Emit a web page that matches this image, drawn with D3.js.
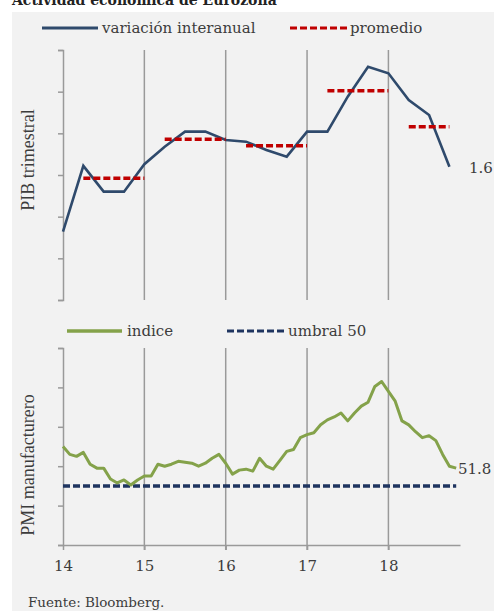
<!DOCTYPE html>
<html>
<head>
<meta charset="utf-8">
<script src="https://cdn.jsdelivr.net/npm/d3@7"></script>
<style>
  body { margin: 0; background: #fff; }
  text { font-family: "DejaVu Serif", "Liberation Serif", serif; fill: #3c3c3c; }
</style>
</head>
<body>
<div id="chart"></div>
<script>
// PIB: variacion interanual trimestral, 2014T1 .. 2018T4
var gdpQuarters = d3.range(20).map(function(k) { return 14 + k / 4; });
var gdpValues = [0.82, 1.61, 1.30, 1.30, 1.63, 1.84, 2.02, 2.02,
                 1.92, 1.90, 1.80, 1.72, 2.02, 2.02, 2.44, 2.80,
                 2.72, 2.40, 2.22, 1.60];

// promedio anual (segmento desde T2 del anyo)
var avgYears = [14, 15, 16, 17, 18];
var avgValues = [1.46, 1.93, 1.85, 2.51, 2.08];

// PMI manufacturero mensual, ene 2014 .. nov 2018
var pmiValues = [54.0, 53.2, 53.0, 53.4, 52.2, 51.8, 51.8, 50.7, 50.3, 50.6, 50.1, 50.6,
                 51.0, 51.0, 52.2, 52.0, 52.2, 52.5, 52.4, 52.3, 52.0, 52.3, 52.8, 53.2,
                 52.3, 51.2, 51.6, 51.7, 51.5, 52.8, 52.0, 51.7, 52.6, 53.5, 53.7, 54.9,
                 55.2, 55.4, 56.2, 56.7, 57.0, 57.4, 56.6, 57.4, 58.1, 58.5, 60.1, 60.6,
                 59.6, 58.6, 56.6, 56.2, 55.5, 54.9, 55.1, 54.6, 53.2, 52.0, 51.8];
var pmiMonths = pmiValues.map(function(d, i) { return 14 + i / 12; });
var threshold = 50;

var yearTicks = [14, 15, 16, 17, 18];
var gdpTicks = [0, 0.5, 1, 1.5, 2, 2.5, 3];
var pmiTicks = [44, 48, 52, 56, 60, 64];

var width = 494, height = 611;

var svg = d3.select("#chart").append("svg")
  .attr("width", width)
  .attr("height", height);

svg.append("rect")
  .attr("x", 12).attr("y", 12)
  .attr("width", width - 12).attr("height", height - 12)
  .attr("fill", "#f2f2f2");

// titulo (recortado arriba, como en el original)
svg.append("text")
  .attr("x", 12).attr("y", 5)
  .style("font-size", "14px")
  .style("font-weight", "bold")
  .style("fill", "#222")
  .text("Actividad económica de Eurozona");

var x = d3.scaleLinear().domain([14, 18.88]).range([63, 460]);
var yTop = d3.scaleLinear().domain([0, 3]).range([300, 50]);
var yBot = d3.scaleLinear().domain([44, 64]).range([545, 348]);

var gridColor = "#9a9a9a";

function drawGrid(g, y0, y1) {
  g.selectAll("line.grid")
    .data(yearTicks.slice(1))
    .enter()
    .append("line")
    .attr("class", "grid")
    .attr("x1", function(d) { return x(d); })
    .attr("x2", function(d) { return x(d); })
    .attr("y1", y0)
    .attr("y2", y1)
    .style("stroke", gridColor)
    .style("stroke-width", "1.5px");
}

function styleAxis(g) {
  g.selectAll("path").style("stroke", gridColor).style("stroke-width", "1.5px");
  g.selectAll("line").style("stroke", gridColor).style("stroke-width", "1.5px");
}

// ---- panel superior: PIB ----
var gdpPanel = svg.append("g");
drawGrid(gdpPanel, yTop(3), yTop(0));

var gyTop = gdpPanel.append("g")
  .attr("transform", "translate(" + x(14) + ",0)")
  .call(d3.axisLeft(yTop).tickValues(gdpTicks).tickSize(5).tickSizeOuter(5).tickFormat(""));
styleAxis(gyTop);

gdpPanel.append("path")
  .datum(gdpValues)
  .attr("fill", "none")
  .attr("stroke", "#2f4a6c")
  .attr("stroke-width", 2.6)
  .attr("stroke-linejoin", "miter")
  .attr("d", d3.line()
    .x(function(d, i) { return x(gdpQuarters[i]); })
    .y(function(d) { return yTop(d); }));

var lastQ = gdpQuarters[gdpQuarters.length - 1];
gdpPanel.selectAll("line.avg")
  .data(avgValues)
  .enter()
  .append("line")
  .attr("class", "avg")
  .attr("x1", function(d, i) { return x(avgYears[i] + 0.25); })
  .attr("x2", function(d, i) { return x(Math.min(avgYears[i] + 1, lastQ)); })
  .attr("y1", function(d) { return yTop(d); })
  .attr("y2", function(d) { return yTop(d); })
  .style("stroke", "#c00000")
  .style("stroke-width", "3.5px")
  .style("stroke-dasharray", "7,3");

gdpPanel.append("text")
  .attr("x", 469)
  .attr("y", yTop(gdpValues[gdpValues.length - 1]) + 6)
  .style("font-size", "15px")
  .text("1.6");

gdpPanel.append("text")
  .attr("transform", "translate(34," + 160 + ") rotate(-90)")
  .attr("text-anchor", "middle")
  .style("font-family", "'Liberation Serif', serif")
  .style("font-size", "18px")
  .text("PIB trimestral");

// leyenda superior
gdpPanel.append("line")
  .attr("x1", 42).attr("x2", 98).attr("y1", 28).attr("y2", 28)
  .style("stroke", "#2f4a6c").style("stroke-width", "3px");
gdpPanel.append("text")
  .attr("x", 102).attr("y", 33)
  .style("font-size", "15px")
  .text("variación interanual");
gdpPanel.append("line")
  .attr("x1", 290).attr("x2", 348).attr("y1", 28).attr("y2", 28)
  .style("stroke", "#c00000").style("stroke-width", "3px")
  .style("stroke-dasharray", "7,3");
gdpPanel.append("text")
  .attr("x", 350).attr("y", 33)
  .style("font-size", "15px")
  .text("promedio");

// ---- panel inferior: PMI ----
var pmiPanel = svg.append("g");
drawGrid(pmiPanel, yBot(64), yBot(44) + 5);

var gyBot = pmiPanel.append("g")
  .attr("transform", "translate(" + x(14) + ",0)")
  .call(d3.axisLeft(yBot).tickValues(pmiTicks).tickSize(5).tickSizeOuter(5).tickFormat(""));
styleAxis(gyBot);

var gxBot = pmiPanel.append("g")
  .attr("transform", "translate(0," + yBot(44) + ")")
  .call(d3.axisBottom(x).tickValues(yearTicks).tickSize(5).tickSizeOuter(0)
    .tickPadding(10).tickFormat(d3.format("d")));
styleAxis(gxBot);
gxBot.selectAll("text")
  .style("font-size", "15px")
  .style("font-family", "'DejaVu Serif', serif")
  .style("fill", "#3c3c3c");

pmiPanel.append("line")
  .attr("x1", x(14))
  .attr("x2", x(pmiMonths[pmiMonths.length - 1]))
  .attr("y1", yBot(threshold))
  .attr("y2", yBot(threshold))
  .style("stroke", "#1f3560")
  .style("stroke-width", "3.5px")
  .style("stroke-dasharray", "7,3");

pmiPanel.append("path")
  .datum(pmiValues)
  .attr("fill", "none")
  .attr("stroke", "#84a24a")
  .attr("stroke-width", 3)
  .attr("stroke-linejoin", "round")
  .attr("d", d3.line()
    .x(function(d, i) { return x(pmiMonths[i]); })
    .y(function(d) { return yBot(d); }));

pmiPanel.append("text")
  .attr("x", 458)
  .attr("y", yBot(pmiValues[pmiValues.length - 1]) + 6)
  .style("font-size", "15px")
  .text("51.8");

pmiPanel.append("text")
  .attr("transform", "translate(34," + 465 + ") rotate(-90)")
  .attr("text-anchor", "middle")
  .style("font-family", "'Liberation Serif', serif")
  .style("font-size", "18px")
  .text("PMI manufacturero");

// leyenda inferior
pmiPanel.append("line")
  .attr("x1", 67).attr("x2", 122).attr("y1", 331).attr("y2", 331)
  .style("stroke", "#84a24a").style("stroke-width", "3.5px");
pmiPanel.append("text")
  .attr("x", 127).attr("y", 336)
  .style("font-size", "15px")
  .text("indice");
pmiPanel.append("line")
  .attr("x1", 227).attr("x2", 285).attr("y1", 331).attr("y2", 331)
  .style("stroke", "#1f3560").style("stroke-width", "3px")
  .style("stroke-dasharray", "7,3");
pmiPanel.append("text")
  .attr("x", 288).attr("y", 336)
  .style("font-size", "15px")
  .text("umbral 50");

svg.append("text")
  .attr("x", 28).attr("y", 607)
  .style("font-size", "13.5px")
  .text("Fuente: Bloomberg.");
</script>
</body>
</html>
